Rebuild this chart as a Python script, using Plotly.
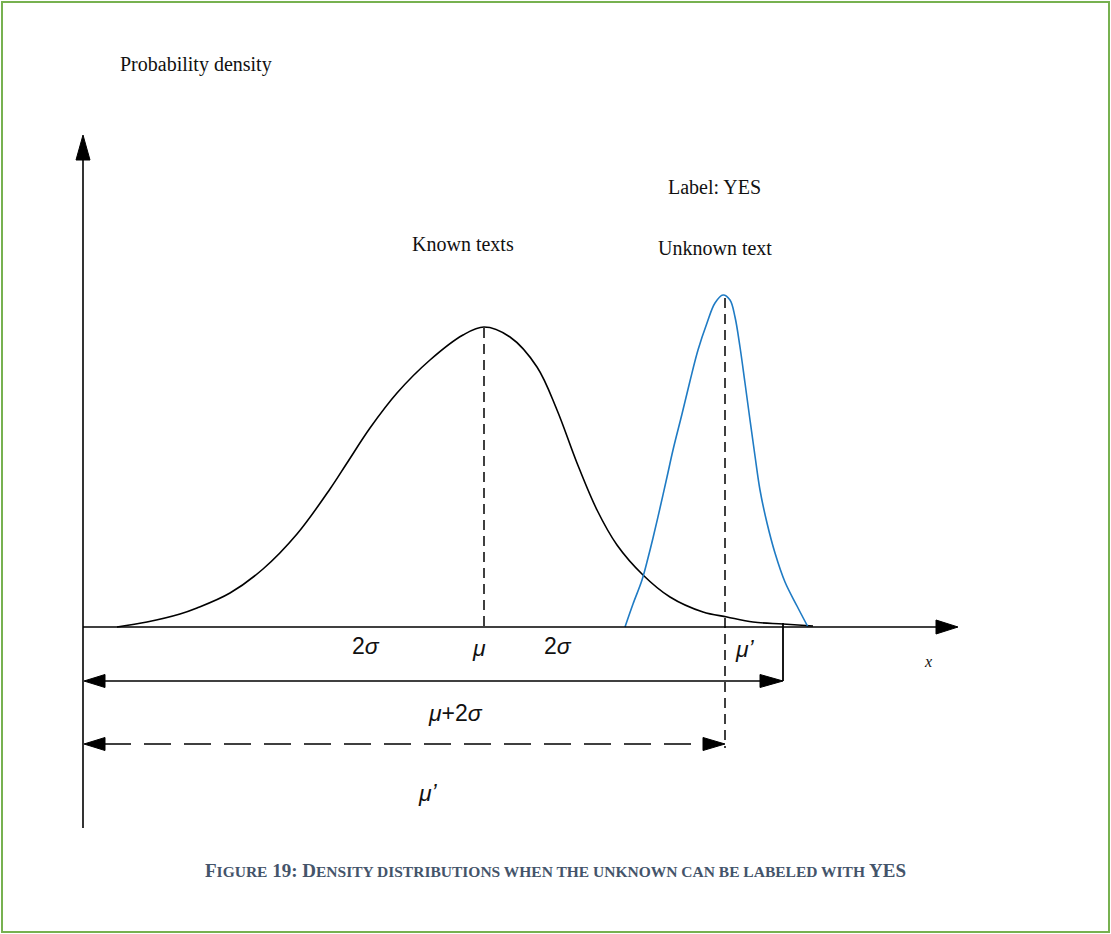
import plotly.graph_objects as go

# Curves (drawing units: x to the right, y downward)
known_x = [117, 147, 180, 197, 230, 263, 297, 330, 347, 370, 397, 430, 463, 484,
           510, 537, 557, 577, 597, 617, 643, 670, 703, 727, 753, 783, 813]
known_y = [627, 622, 614, 608, 593, 569, 534, 489, 463, 428, 393, 360, 335, 327,
           337, 367, 410, 463, 510, 545, 575, 597, 612, 617, 622, 624, 626]

unknown_x = [625, 633, 642, 648, 653, 660, 667, 673, 682, 690, 698, 707, 715, 723,
             730, 735, 740, 745, 750, 755, 760, 767, 775, 785, 797, 808]
unknown_y = [627, 604, 580, 558, 538, 508, 477, 450, 414, 381, 350, 323, 303, 295,
             300, 317, 347, 383, 420, 456, 490, 523, 553, 582, 606, 627]

labels_top = ["Probability density", "Known texts", "Label: YES", "Unknown text"]
axis_labels = ["2<i>σ</i>", "<i>μ</i>", "2<i>σ</i>", "<i>μ’</i>", "<i>μ</i>+2<i>σ</i>", "<i>μ’</i>"]
SC = "<span style='font-size:15.5px'>{}</span>"
caption = ("F" + SC.format("IGURE") + " 19: D"
           + SC.format("ENSITY DISTRIBUTIONS WHEN THE UNKNOWN CAN BE LABELED WITH") + " YES")

W, H = 1111, 934
fig = go.Figure()

fig.add_trace(go.Scatter(x=known_x, y=known_y, mode="lines",
                         line=dict(color="black", width=1.6, shape="spline", smoothing=1.0),
                         hoverinfo="skip", showlegend=False))
fig.add_trace(go.Scatter(x=unknown_x, y=unknown_y, mode="lines",
                         line=dict(color="#1f7bc4", width=1.6, shape="spline", smoothing=1.0),
                         hoverinfo="skip", showlegend=False))

shapes = []
# green frame
shapes.append(dict(type="rect", x0=2, y0=2, x1=1109, y1=932,
                   line=dict(color="#77b150", width=2)))
# y axis
shapes.append(dict(type="line", x0=83, y0=828, x1=83, y1=155, line=dict(color="black", width=1.6)))
shapes.append(dict(type="path", path="M 83 135 L 76 160 L 90 160 Z",
                   fillcolor="black", line=dict(color="black", width=1)))
# x axis
shapes.append(dict(type="line", x0=83, y0=627, x1=940, y1=627, line=dict(color="black", width=1.6)))
shapes.append(dict(type="path", path="M 958 627 L 936 620 L 936 634 Z",
                   fillcolor="black", line=dict(color="black", width=1)))
# dashed verticals
shapes.append(dict(type="line", x0=484, y0=328, x1=484, y1=627,
                   line=dict(color="black", width=1.5, dash="10px,6px")))
shapes.append(dict(type="line", x0=725, y0=298, x1=725, y1=748,
                   line=dict(color="black", width=1.5, dash="10px,6px")))
# solid double arrow (mu + 2 sigma)
shapes.append(dict(type="line", x0=100, y0=681, x1=765, y1=681, line=dict(color="black", width=1.6)))
shapes.append(dict(type="path", path="M 84 681 L 105 674.5 L 105 687.5 Z",
                   fillcolor="black", line=dict(color="black", width=1)))
shapes.append(dict(type="path", path="M 783 681 L 760 674.5 L 760 687.5 Z",
                   fillcolor="black", line=dict(color="black", width=1)))
shapes.append(dict(type="line", x0=783, y0=623, x1=783, y1=681, line=dict(color="black", width=1.8)))
# dashed double arrow (mu')
shapes.append(dict(type="line", x0=104, y0=744, x1=705, y1=744,
                   line=dict(color="black", width=1.6, dash="27px,13px")))
shapes.append(dict(type="path", path="M 84 744 L 105 737.5 L 105 750.5 Z",
                   fillcolor="black", line=dict(color="black", width=1)))
shapes.append(dict(type="path", path="M 725 744 L 703 737.5 L 703 750.5 Z",
                   fillcolor="black", line=dict(color="black", width=1)))

serif = "Liberation Serif"
sans = "Liberation Sans"
ann = []
top_pos = [(196, 64), (463, 244), (714, 187), (715, 248)]
for t, (x, y) in zip(labels_top, top_pos):
    ann.append(dict(x=x, y=y, text=t, showarrow=False, xanchor="center", yanchor="middle",
                    font=dict(family=serif, size=20, color="#111")))
ax_pos = [(366, 646), (479, 648), (558, 646), (745, 649), (455, 713), (428, 793)]
for t, (x, y) in zip(axis_labels, ax_pos):
    ann.append(dict(x=x, y=y, text=t, showarrow=False, xanchor="center", yanchor="middle",
                    font=dict(family=sans, size=23, color="#111")))
ann.append(dict(x=928, y=661, text="<i>x</i>", showarrow=False, xanchor="center", yanchor="middle",
                font=dict(family=serif, size=16, color="#111")))
ann.append(dict(x=555, y=870, text="<b>" + caption + "</b>", showarrow=False,
                xanchor="center", yanchor="middle",
                font=dict(family=serif, size=19, color="#44546a")))

fig.update_layout(
    width=W, height=H, margin=dict(l=0, r=0, t=0, b=0),
    paper_bgcolor="white", plot_bgcolor="white",
    xaxis=dict(range=[0, W], visible=False, fixedrange=True),
    yaxis=dict(range=[H, 0], visible=False, fixedrange=True),
    shapes=shapes, annotations=ann, showlegend=False,
)
fig.write_html("out.html", config={"displayModeBar": False})
